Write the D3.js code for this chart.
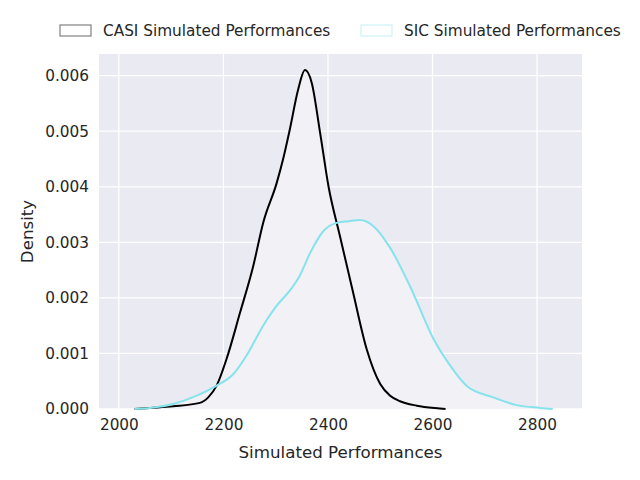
<!DOCTYPE html>
<html>
<head>
<meta charset="utf-8">
<script src="https://cdn.jsdelivr.net/npm/d3@7"></script>
<style>
  body { margin: 0; background: #fff; }
  text { font-family: "DejaVu Sans", sans-serif; fill: #262626; }
</style>
</head>
<body>
<div id="chart"></div>
<script>
// values
var casiX = [2030, 2060, 2104, 2155, 2171, 2187, 2206, 2232, 2257, 2276, 2302, 2314, 2327, 2343, 2356, 2369, 2385, 2401, 2423, 2448, 2474, 2500, 2519, 2538, 2570, 2614, 2625];
var casiDensity = [0, 0.00002, 0.00005, 0.00011, 0.00021, 0.00042, 0.0009, 0.00174, 0.00257, 0.00335, 0.00407, 0.00449, 0.00503, 0.00575, 0.0061, 0.00587, 0.00497, 0.00401, 0.00311, 0.0021, 0.00108, 0.00045, 0.00024, 0.00014, 0.00006, 0.00001, 0];
var sicX = [2030, 2060, 2104, 2149, 2187, 2219, 2244, 2276, 2302, 2327, 2346, 2366, 2391, 2417, 2440, 2461, 2487, 2519, 2557, 2602, 2634, 2665, 2716, 2761, 2806, 2830];
var sicDensity = [0, 0.00002, 0.00009, 0.00024, 0.00042, 0.00063, 0.00096, 0.0015, 0.00186, 0.00213, 0.0024, 0.00281, 0.0032, 0.00335, 0.00338, 0.0034, 0.00329, 0.0029, 0.00221, 0.00126, 0.00078, 0.00042, 0.00021, 0.00007, 0.00002, 0];
var seriesNames = ["CASI Simulated Performances", "SIC Simulated Performances"];
var xTicks = [2000, 2200, 2400, 2600, 2800];
var yTicks = [0, 0.001, 0.002, 0.003, 0.004, 0.005, 0.006];

var margin = {top: 54, right: 58, bottom: 71, left: 99},
    width = 640 - margin.left - margin.right,
    height = 480 - margin.top - margin.bottom;

var svg = d3.select("#chart")
  .append("svg")
    .attr("width", 640)
    .attr("height", 480);

var g = svg.append("g")
    .attr("transform", "translate(" + margin.left + "," + margin.top + ")");

var x = d3.scaleLinear().domain([1962, 2886]).range([0, width]);
var y = d3.scaleLinear().domain([0, 0.00639]).range([height, 0]);

g.append("rect")
  .attr("width", width)
  .attr("height", height)
  .attr("fill", "#EAEAF2");

// grid
g.selectAll(".vgrid").data(xTicks).enter().append("line")
  .attr("x1", function(d) { return x(d); }).attr("x2", function(d) { return x(d); })
  .attr("y1", 0).attr("y2", height)
  .attr("stroke", "#fff").attr("stroke-width", 1.3);
g.selectAll(".hgrid").data(yTicks).enter().append("line")
  .attr("y1", function(d) { return y(d); }).attr("y2", function(d) { return y(d); })
  .attr("x1", 0).attr("x2", width)
  .attr("stroke", "#fff").attr("stroke-width", 1.3);

var series = [
  {xs: casiX, ys: casiDensity, color: "#000000", edge: "#808080"},
  {xs: sicX, ys: sicDensity, color: "#86E3EC", edge: "#CBF3F7"}
];
series.forEach(function(s) {
  s.pts = s.xs.map(function(v, i) { return [v, s.ys[i]]; });
});

var area = d3.area()
  .x(function(d) { return x(d[0]); })
  .y0(height)
  .y1(function(d) { return y(d[1]); })
  .curve(d3.curveMonotoneX);
var line = d3.line()
  .x(function(d) { return x(d[0]); })
  .y(function(d) { return y(d[1]); })
  .curve(d3.curveMonotoneX);

series.forEach(function(s) {
  g.append("path").datum(s.pts).attr("d", area).attr("fill", "#F1F1F6");
});
series.forEach(function(s) {
  g.append("path").datum(s.pts).attr("d", line)
    .attr("fill", "none").attr("stroke", s.color).attr("stroke-width", 2);
});

// axes
var xAxis = g.append("g")
  .attr("transform", "translate(0," + height + ")")
  .call(d3.axisBottom(x).tickValues(xTicks).tickSize(0).tickPadding(10).tickFormat(d3.format("d")));
var yAxis = g.append("g")
  .call(d3.axisLeft(y).tickValues(yTicks).tickSize(0).tickPadding(10).tickFormat(d3.format(".3f")));
[xAxis, yAxis].forEach(function(a) {
  a.select(".domain").remove();
  a.selectAll("text").style("font-size", "15.3px").attr("fill", "#262626");
});

g.append("text")
  .attr("x", width / 2)
  .attr("y", height + 49)
  .attr("text-anchor", "middle")
  .style("font-size", "16.7px")
  .text("Simulated Performances");

g.append("text")
  .attr("transform", "rotate(-90)")
  .attr("x", -height / 2)
  .attr("y", -66)
  .attr("text-anchor", "middle")
  .style("font-size", "16.7px")
  .text("Density");

// legend
var legendX = [60, 361];
series.forEach(function(s, i) {
  svg.append("rect")
    .attr("x", legendX[i]).attr("y", 25)
    .attr("width", 31).attr("height", 11)
    .attr("fill", "#fff").attr("stroke", s.edge).attr("stroke-width", 1.2);
  svg.append("text")
    .attr("x", legendX[i] + 43).attr("y", 36)
    .style("font-size", "15.3px")
    .text(seriesNames[i]);
});
</script>
</body>
</html>
